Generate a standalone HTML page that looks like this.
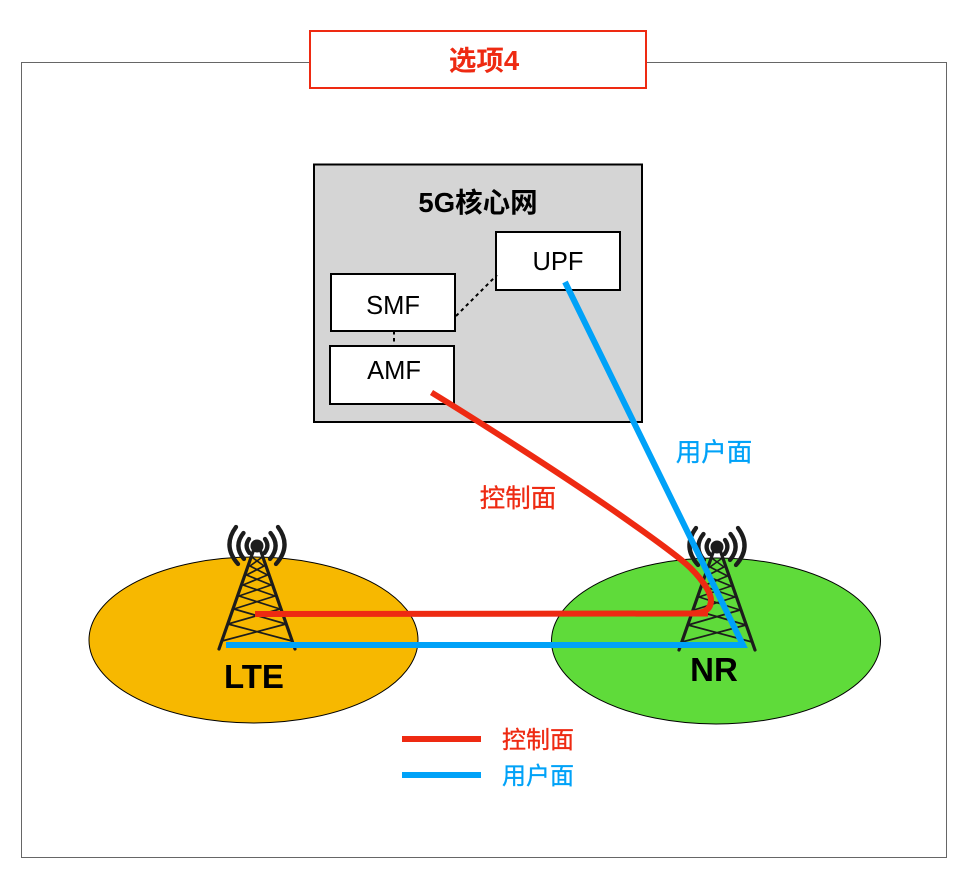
<!DOCTYPE html>
<html><head><meta charset="utf-8"><style>
html,body{margin:0;padding:0;background:#fff}
svg{display:block}
text{font-family:"Liberation Sans","Noto Sans CJK SC",sans-serif;text-anchor:middle}
</style></head><body>
<svg width="966" height="884" viewBox="0 0 966 884" xmlns="http://www.w3.org/2000/svg">
<defs>
<g id="tower" fill="none" stroke="#1c1c1c" stroke-linecap="round">
<path stroke-width="3.200" d="M-2 0L-38 103M2 0L38 103"/>
<path stroke-width="1.700" d="M-4 12L7 20M4 12L-7 20M-7 20L10.500 29M7 20L-10.500 29M-10.500 29L14 39M10.500 29L-14 39M-14 39L18 50M14 39L-18 50M-18 50L23 63M18 50L-23 63M-23 63L29 78M23 63L-29 78M-29 78L35 95M29 78L-35 95"/>
<circle r="6.500" fill="#1c1c1c" stroke="none"/>
<g stroke-width="4.300">
<path d="M-21 -19Q-35 0-19 18M21 -19Q35 0 19 18"/>
<path d="M-13.500 -13Q-24 0-13 13M13.500 -13Q24 0 13 13"/>
<path d="M-8 -7Q-13 0-7.500 7M8 -7Q13 0 7.500 7"/>
</g>
</g>
</defs>
<rect width="966" height="884" fill="#fff"/>
<rect x="21.500" y="62.500" width="925" height="795" fill="#fff" stroke="#666" stroke-width="1"/>
<rect x="310" y="31" width="336" height="57" fill="#fff" stroke="#ee2a12" stroke-width="2"/>
<text x="484" y="70" font-size="27.500" font-weight="700" fill="#ee2a12">选项4</text>

<rect x="314" y="164.500" width="328" height="257.500" fill="#d5d5d5" stroke="#000" stroke-width="2"/>
<text x="478" y="212" font-size="27.500" font-weight="700" fill="#000">5G核心网</text>
<rect x="496" y="232" width="124" height="58" fill="#fff" stroke="#000" stroke-width="2"/>
<text x="558" y="270" font-size="25.500" fill="#000">UPF</text>
<rect x="331" y="274" width="124" height="57" fill="#fff" stroke="#000" stroke-width="2"/>
<text x="393" y="314" font-size="25.500" fill="#000">SMF</text>
<rect x="330" y="346" width="124" height="58" fill="#fff" stroke="#000" stroke-width="2"/>
<text x="394" y="379" font-size="25.500" fill="#000">AMF</text>
<path d="M394 331V346M456 316L497 275" stroke="#000" stroke-width="2" stroke-dasharray="3.500 3.500" fill="none"/>

<ellipse cx="253.500" cy="640" rx="164.500" ry="83" fill="#f7b800" stroke="#000" stroke-width="1"/>
<ellipse cx="716" cy="641" rx="164.500" ry="83" fill="#5fdb3a" stroke="#000" stroke-width="1"/>
<use href="#tower" x="257" y="546"/>
<use href="#tower" x="717" y="547"/>
<text x="254" y="688" font-size="33" font-weight="700" fill="#000">LTE</text>
<text x="714" y="681" font-size="33" font-weight="700" fill="#000">NR</text>

<path d="M565 282L743 645H226" fill="none" stroke="#00a2f8" stroke-width="6"/>
<path d="M431.500 392.500C470 416 560 473 620 515C650 536 672 552 685 563C700 576 711 592 711 600C711 610 704 613.500 690 613.500L255 614" fill="none" stroke="#ee2a12" stroke-width="6"/>
<path d="M670 613.500H708" fill="none" stroke="#ee2a12" stroke-width="6"/>
<g stroke-width="0.300">
<text x="714" y="461" font-size="25.500" fill="#00a2f8" stroke="#00a2f8">用户面</text>
<text x="518" y="507" font-size="25.500" fill="#ee2a12" stroke="#ee2a12">控制面</text>
</g>
<rect x="402" y="736" width="79" height="6" fill="#ee2a12"/>
<rect x="402" y="772" width="79" height="6" fill="#00a2f8"/>
<g stroke-width="0.300">
<text x="538" y="748" font-size="24" fill="#ee2a12" stroke="#ee2a12">控制面</text>
<text x="538" y="784" font-size="24" fill="#00a2f8" stroke="#00a2f8">用户面</text>
</g>
</svg>
</body></html>
